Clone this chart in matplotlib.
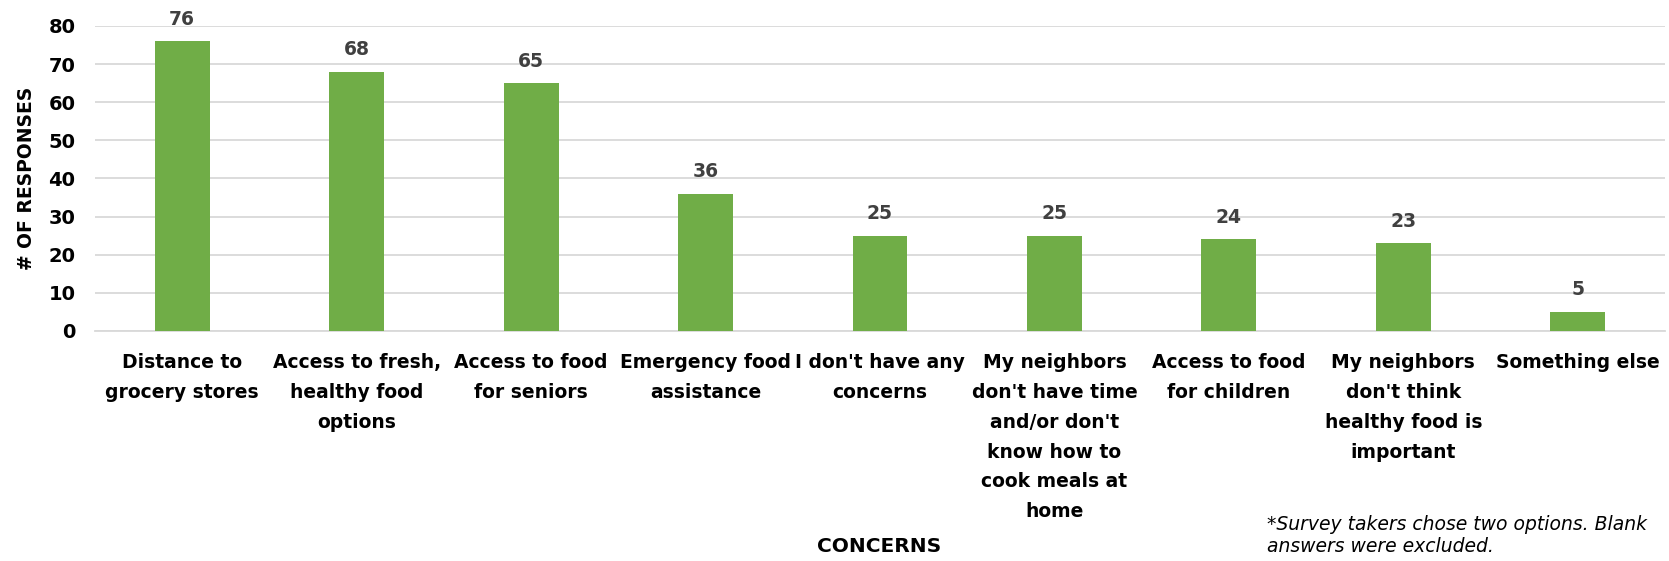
import numpy as np
import matplotlib.pyplot as plt

plt.rcParams['font.family'] = ['DejaVu Sans']

categories = [
    "Distance to\ngrocery stores",
    "Access to fresh,\nhealthy food\noptions",
    "Access to food\nfor seniors",
    "Emergency food\nassistance",
    "I don't have any\nconcerns",
    "My neighbors\ndon't have time\nand/or don't\nknow how to\ncook meals at\nhome",
    "Access to food\nfor children",
    "My neighbors\ndon't think\nhealthy food is\nimportant",
    "Something else",
]
responses = [76, 68, 65, 36, 25, 25, 24, 23, 5]
yticks = [0, 10, 20, 30, 40, 50, 60, 70, 80]

fig = plt.figure(figsize=(16.69, 5.61), dpi=100)
ax = fig.add_axes([0.0569, 0.410, 0.9407, 0.5437])

x = np.arange(len(categories))
bars = ax.bar(x, responses, width=0.315, color='#70AD47', zorder=3)

for b, v in zip(bars, responses):
    ax.annotate(str(v), (b.get_x() + b.get_width() / 2, v),
                xytext=(0, 9), textcoords='offset points',
                ha='center', va='bottom', fontsize=13.5, fontweight='bold',
                color='#404040')

ax.set_xlim(-0.5, len(categories) - 0.5)
ax.set_ylim(0, 80)
ax.set_yticks(yticks)
ax.set_xticks(x)
ax.set_xticklabels(categories, fontsize=13.5, fontweight='bold',
                   linespacing=1.72, va='top')
for lbl in ax.get_yticklabels():
    lbl.set_fontsize(14)
    lbl.set_fontweight('bold')
ax.tick_params(axis='both', length=0)
ax.tick_params(axis='x', pad=16)
ax.tick_params(axis='y', pad=14)

ax.grid(axis='y', color='#d9d9d9', linewidth=1.3, zorder=0)
for s in ['top', 'right', 'left']:
    ax.spines[s].set_visible(False)
ax.spines['bottom'].set_color('#d9d9d9')
ax.spines['bottom'].set_linewidth(1.3)

ax.set_ylabel('# OF RESPONSES', fontsize=13.5, fontweight='bold', labelpad=9)
fig.text(0.527, 0.025, 'CONCERNS', ha='center', va='center',
         fontsize=14.5, fontweight='bold')
fig.text(0.759, 0.046, '*Survey takers chose two options. Blank\nanswers were excluded.',
         ha='left', va='center', fontsize=13.5, style='italic', linespacing=1.2)

fig.savefig('out.png', dpi=100)
